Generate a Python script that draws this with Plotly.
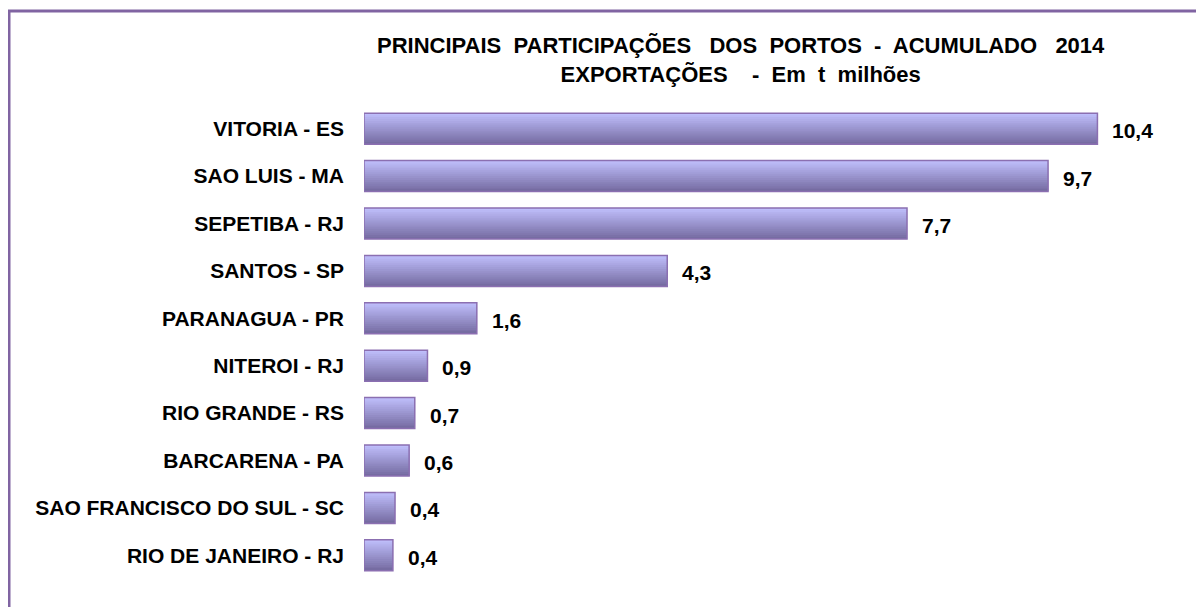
import plotly.graph_objects as go

ports = ["VITORIA - ES", "SAO LUIS - MA", "SEPETIBA - RJ", "SANTOS - SP", "PARANAGUA - PR",
         "NITEROI - RJ", "RIO GRANDE - RS", "BARCARENA - PA", "SAO FRANCISCO DO SUL - SC",
         "RIO DE JANEIRO - RJ"]
values = [10.4, 9.7, 7.7, 4.3, 1.6, 0.9, 0.72, 0.64, 0.44, 0.41]
value_labels = ["10,4", "9,7", "7,7", "4,3", "1,6", "0,9", "0,7", "0,6", "0,4", "0,4"]
title_lines = ["PRINCIPAIS  PARTICIPAÇÕES   DOS  PORTOS  -  ACUMULADO   2014",
               "EXPORTAÇÕES    -  Em  t  milhões"]

OFF = 8  # default page body margin
W, H = 1204, 607
XMAX = 11.5
SCALE = 70.5  # px per unit
L, T, B = 364 - OFF, 105 - OFF, 36
R = W - L - round(XMAX * SCALE)
BAR_W = 0.654
FONT = "Liberation Sans, Arial"

fig = go.Figure()

# gradient bands (top light -> bottom dark), each extending to bar bottom
N = 16
c_top = (190, 189, 250)
c_bot = (118, 108, 162)
band = BAR_W / N
for k in range(N):
    t = k / (N - 1)
    col = tuple(round(c_top[i] + (c_bot[i] - c_top[i]) * t) for i in range(3))
    fig.add_trace(go.Bar(
        x=values, y=ports, orientation="h",
        width=BAR_W - k * band, offset=-BAR_W / 2 + k * band,
        marker=dict(color="rgb(%d,%d,%d)" % col, line=dict(width=0)),
        showlegend=False, hoverinfo="skip"))

# outline
fig.add_trace(go.Bar(
    x=values, y=ports, orientation="h", width=BAR_W,
    marker=dict(color="rgba(0,0,0,0)", line=dict(color="#8b6fb1", width=1.5)),
    showlegend=False, hoverinfo="skip"))

for v, p, lab in zip(values, ports, value_labels):
    fig.add_annotation(x=v, y=p, text="<b>%s</b>" % lab, showarrow=False,
                       xanchor="left", xshift=13, yshift=-2,
                       font=dict(family=FONT, size=21, color="#000"))

pw = W - L - R
ph = H - T - B
# page pixel -> paper coords
def px(xp):
    return (xp - OFF - L) / pw
def py(yp):
    return (H - B - (yp - OFF)) / ph

fig.add_shape(type="rect", xref="paper", yref="paper",
              x0=px(9), x1=1.3, y0=-0.5, y1=py(11),
              line=dict(color="#8064a2", width=3), fillcolor="rgba(0,0,0,0)", layer="above")

fig.add_annotation(xref="paper", yref="paper", x=px(741), y=py(60),
                   text="<b>%s</b><br><b>%s</b>" % tuple(title_lines), showarrow=False,
                   xanchor="center", yanchor="middle", align="center",
                   font=dict(family=FONT, size=22, color="#000"))

fig.update_layout(
    width=W, height=H, margin=dict(l=L, r=R, t=T, b=B),
    barmode="overlay", plot_bgcolor="white", paper_bgcolor="white",
    xaxis=dict(range=[0, XMAX], visible=False, showgrid=False, zeroline=False),
    yaxis=dict(autorange="reversed", showgrid=False, zeroline=False, showline=False,
               ticks="", ticklabelstandoff=19,
               tickfont=dict(family=FONT, size=21, color="#000", weight="bold")),
)

fig.write_html("out.html")
